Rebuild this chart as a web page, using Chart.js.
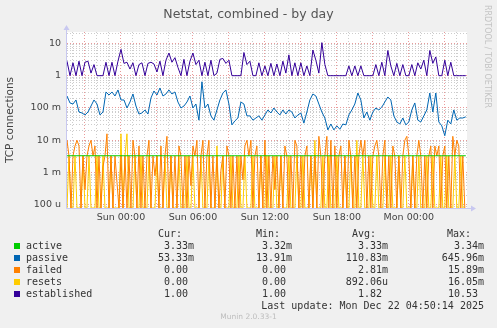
<!DOCTYPE html>
<html>
<head>
<meta charset="utf-8">
<script src="https://cdn.jsdelivr.net/npm/chart.js@4.4.1/dist/chart.umd.min.js"></script>
<style>
  body { margin: 0; background: #f0f0f0; }
  #wrap { position: relative; width: 497px; height: 328px; overflow: hidden; }
  #chart { position: absolute; left: 0; top: 0; }
  .t { position: absolute; white-space: pre; line-height: 12px; }
  .mono { font-family: "DejaVu Sans Mono", monospace; font-size: 10px; color: #333; }
  .sq { position: absolute; width: 6px; height: 6px; }
</style>
</head>
<body>
<div id="wrap">
  <canvas id="chart" width="497" height="328"></canvas>
</div>
<script>
// netstat day graph, hours relative to Sun 00:00, first sample Sat 19:30
const startHour = -4.5;
const stepHour = 0.25;      // established, passive, active: 15 min samples
const fineStepHour = 1 / 6; // failed, resets: 10 min samples

const established = [
  2.8, 1, 2.5, 1, 2.8, 1, 2.6, 2.8, 1.2, 2.2,
  1, 1, 1, 2.6, 1, 2.6, 1, 2.8, 6.5, 2.4,
  2.6, 1.6, 2.5, 1, 2.2, 2.5, 1, 2.4, 2.6, 2.3,
  1.3, 2.8, 1, 3.0, 5.0, 2.6, 3.6, 1.8, 1, 3.2,
  1, 2.8, 5.0, 2.2, 3.0, 1, 2.6, 1, 3.0, 1,
  1.2, 3.2, 3.4, 2.4, 3.0, 1, 1, 1, 1, 5.2,
  2.2, 2.8, 1, 1, 2.5, 1, 2.0, 1, 2.4, 1,
  2.3, 1, 2.8, 1.2, 4.4, 1, 2.5, 1, 2.5, 1,
  2.0, 1, 6.2, 3.0, 1.2, 10.5, 2.2, 1, 1, 1,
  1, 1, 1, 1, 2.0, 1, 2.0, 1, 2.0, 1,
  1, 1, 1, 2.2, 1, 2.6, 1, 6.0, 2.0, 1,
  2.4, 1, 2.2, 1, 1, 2.2, 1, 2.5, 1.6, 3.0,
  1, 6.0, 2.4, 3.8, 1, 1, 3.0, 1, 2.6, 1,
  1, 1, 1, 1
];

const passive = [
  0.235, 0.143, 0.133, 0.177, 0.075, 0.070, 0.061, 0.075, 0.115, 0.177,
  0.133, 0.061, 0.075, 0.313, 0.252, 0.313, 0.235, 0.361, 0.177, 0.177,
  0.100, 0.153, 0.271, 0.115, 0.065, 0.070, 0.087, 0.065, 0.204, 0.336,
  0.252, 0.416, 0.235, 0.271, 0.361, 0.271, 0.313, 0.153, 0.100, 0.115,
  0.153, 0.235, 0.100, 0.133, 0.042, 0.646, 0.100, 0.133, 0.057, 0.042,
  0.087, 0.177, 0.291, 0.361, 0.133, 0.030, 0.040, 0.049, 0.153, 0.133,
  0.057, 0.057, 0.042, 0.049, 0.057, 0.042, 0.061, 0.087, 0.070, 0.100,
  0.075, 0.061, 0.087, 0.065, 0.087, 0.075, 0.049, 0.061, 0.070, 0.034,
  0.075, 0.177, 0.271, 0.235, 0.133, 0.075, 0.049, 0.021, 0.032, 0.021,
  0.028, 0.022, 0.032, 0.030, 0.061, 0.087, 0.133, 0.291, 0.177, 0.049,
  0.075, 0.042, 0.075, 0.100, 0.087, 0.107, 0.153, 0.219, 0.177, 0.057,
  0.037, 0.032, 0.049, 0.030, 0.037, 0.087, 0.143, 0.042, 0.037, 0.057,
  0.087, 0.291, 0.075, 0.291, 0.037, 0.028, 0.0139, 0.042, 0.032, 0.087,
  0.042, 0.049, 0.049, 0.0533
];

const active = [
  0.00333, 0.00333, 0.00333, 0.00333, 0.00333, 0.00334, 0.00333, 0.00333, 0.00333, 0.00333,
  0.00333, 0.00333, 0.00333, 0.00333, 0.00333, 0.00333, 0.00333, 0.00333, 0.00333, 0.00333,
  0.00333, 0.00333, 0.00332, 0.00333, 0.00333, 0.00333, 0.00333, 0.00333, 0.00333, 0.00333,
  0.00333, 0.00333, 0.00333, 0.00333, 0.00333, 0.00333, 0.00333, 0.00333, 0.00333, 0.00333,
  0.00333, 0.00333, 0.00333, 0.00333, 0.00333, 0.00333, 0.00333, 0.00334, 0.00333, 0.00333,
  0.00333, 0.00333, 0.00333, 0.00333, 0.00333, 0.00333, 0.00333, 0.00333, 0.00333, 0.00333,
  0.00333, 0.00333, 0.00333, 0.00333, 0.00333, 0.00333, 0.00333, 0.00333, 0.00333, 0.00333,
  0.00333, 0.00333, 0.00333, 0.00333, 0.00332, 0.00333, 0.00333, 0.00333, 0.00333, 0.00333,
  0.00333, 0.00333, 0.00333, 0.00333, 0.00333, 0.00333, 0.00333, 0.00333, 0.00333, 0.00333,
  0.00333, 0.00333, 0.00333, 0.00333, 0.00333, 0.00333, 0.00333, 0.00333, 0.00333, 0.00333,
  0.00333, 0.00333, 0.00333, 0.00333, 0.00333, 0.00333, 0.00334, 0.00333, 0.00333, 0.00333,
  0.00333, 0.00333, 0.00333, 0.00333, 0.00333, 0.00333, 0.00333, 0.00333, 0.00333, 0.00333,
  0.00333, 0.00333, 0.00333, 0.00333, 0.00333, 0.00333, 0.00333, 0.00333, 0.00333, 0.00333,
  0.00333, 0.00333, 0.00333, 0.00333
];

const failed = [
  0.01, 0.0033, 0, 0.0033, 0.0067, 0.01, 0.0067, 0, 0.0033, 0.0003,
  0.0033, 0.0067, 0.01, 0.0033, 0.0067, 0, 0.0033, 0, 0.0015, 0.0033,
  0.0159, 0, 0.0033, 0, 0.0033, 0.0005, 0, 0.0033, 0, 0.0033,
  0, 0.0033, 0, 0.01, 0.0033, 0, 0.0067, 0, 0.0033, 0,
  0.0033, 0.01, 0, 0.0033, 0.0008, 0.0033, 0, 0.0067, 0, 0.0033,
  0.0133, 0, 0.0033, 0, 0.0033, 0, 0.0067, 0.0033, 0, 0.0033,
  0, 0.0033, 0.0004, 0.0067, 0.0033, 0.01, 0, 0.0033, 0.01, 0,
  0.0033, 0.01, 0, 0.0033, 0, 0.0033, 0, 0.0012, 0.0033, 0,
  0.0067, 0.0033, 0, 0.0033, 0, 0.0033, 0, 0.0033, 0.0006, 0.0067,
  0.01, 0.0033, 0.01, 0, 0.0033, 0.0067, 0, 0.0033, 0, 0.01,
  0, 0.0033, 0, 0.0033, 0.0003, 0.0033, 0, 0.0033, 0, 0.0067,
  0.0033, 0, 0.0033, 0, 0.01, 0.0067, 0, 0.0033, 0, 0.0033,
  0.0067, 0, 0.0033, 0, 0.0033, 0, 0.0133, 0.0033, 0, 0.0033,
  0.0133, 0, 0.01, 0, 0.0067, 0, 0.0033, 0.0067, 0, 0.0033,
  0, 0.01, 0.0033, 0, 0.0033, 0, 0.0033, 0.01, 0.0033, 0.01,
  0, 0.0033, 0, 0.0033, 0.0067, 0.01, 0.0033, 0, 0.0033, 0.01,
  0, 0.0033, 0, 0.0067, 0.0033, 0, 0.0033, 0, 0.0033, 0.01,
  0.0133, 0.0033, 0, 0.0033, 0, 0.0033, 0.01, 0.0033, 0, 0.0033,
  0, 0.0033, 0.0067, 0, 0.0067, 0.0033, 0.0067, 0, 0.0033, 0.0067,
  0, 0.0033, 0, 0.0133, 0.0033, 0.01, 0.0067, 0, 0.0033, 0
];

const resets = [
  0, 0.0033, 0, 0, 0.0033, 0, 0, 0, 0.0033, 0,
  0, 0.0033, 0, 0, 0, 0.0033, 0, 0, 0.0033, 0,
  0, 0, 0.0033, 0, 0, 0, 0, 0.0159, 0, 0.0033,
  0.0159, 0, 0, 0, 0.0033, 0, 0, 0.0033, 0, 0,
  0, 0.0033, 0, 0, 0, 0.0033, 0, 0, 0, 0.0033,
  0, 0, 0.0033, 0, 0, 0, 0.0033, 0, 0, 0,
  0.0033, 0, 0, 0.0033, 0, 0, 0, 0.0033, 0, 0,
  0, 0.0033, 0, 0, 0, 0.0067, 0, 0, 0.0033, 0,
  0, 0, 0.0033, 0, 0, 0, 0.0033, 0, 0, 0.0033,
  0, 0, 0, 0.0033, 0, 0, 0, 0.0033, 0, 0,
  0.0033, 0, 0, 0, 0.0033, 0, 0, 0.0033, 0, 0,
  0, 0.0033, 0, 0, 0, 0.0033, 0, 0, 0.0033, 0,
  0, 0, 0.0033, 0, 0.01, 0, 0, 0, 0.0033, 0,
  0, 0.0033, 0, 0, 0, 0.0033, 0, 0, 0, 0.0033,
  0, 0, 0.0033, 0, 0, 0.01, 0, 0, 0.0033, 0,
  0, 0, 0.0033, 0, 0, 0.0033, 0, 0, 0, 0.0033,
  0, 0, 0.0033, 0, 0, 0, 0.0033, 0, 0, 0.0033,
  0, 0, 0, 0.0033, 0, 0, 0.0033, 0, 0, 0,
  0.0033, 0, 0, 0.0033, 0, 0, 0, 0.0033, 0, 0,
  0.0033, 0, 0, 0, 0.0033, 0, 0, 0.0033, 0, 0
];

// axes
const xMin = -4.5, xMax = 28.85;
const yMin = 8.07e-5, yMax = 22.4;
const xTickHours = [0, 6, 12, 18, 24];
const xTickLabels = ['Sun 00:00', 'Sun 06:00', 'Sun 12:00', 'Sun 18:00', 'Mon 00:00'];
const yTickValues = [1e-4, 1e-3, 1e-2, 1e-1, 1, 10];
const yTickLabels = ['100 u', '1 m', '10 m', '100 m', '1', '10'];

// legend
const seriesNames = ['active', 'passive', 'failed', 'resets', 'established'];
const seriesColors = ['#00cc00', '#0066b3', '#ff8000', '#ffcc00', '#330099'];
const curText = ['3.33m', '53.33m', '0.00 ', '0.00 ', '1.00 '];
const minText = ['3.32m', '13.91m', '0.00 ', '0.00 ', '1.00 '];
const avgText = ['3.33m', '110.83m', '2.81m', '892.06u', '1.82 '];
const maxText = ['3.34m', '645.96m', '15.89m', '16.05m', '10.53 '];

function pts(arr, step) {
  return arr.map((v, i) => ({ x: startHour + i * step, y: v }));
}

const seriesData = [pts(active, stepHour), pts(passive, stepHour), pts(failed, fineStepHour),
  pts(resets, fineStepHour), pts(established, stepHour)];
const drawOrder = [1, 4, 2, 3, 0]; // lower = drawn later (on top)

const wrap = document.getElementById('wrap');
function addText(txt, left, top, cls, style) {
  const d = document.createElement('div');
  d.className = 't ' + cls;
  d.textContent = txt;
  d.style.left = left + 'px';
  d.style.top = top + 'px';
  if (style) Object.assign(d.style, style);
  wrap.appendChild(d);
  return d;
}

// title and side texts
addText('Netstat, combined - by day', 0, 6, '', {
  width: '497px', textAlign: 'center', font: '12.5px "DejaVu Sans"', color: '#555'
});
addText('RRDTOOL / TOBI OETIKER', 0, 0, '', {
  font: '8px "DejaVu Sans"', color: '#c4c4c4', left: '482px', top: '5px',
  transformOrigin: '0 0', transform: 'rotate(90deg) translate(0, -10px)'
});

// legend table
const rowTop = 228;
addText('Cur:', 158, rowTop, 'mono');
addText('Min:', 256, rowTop, 'mono');
addText('Avg:', 352, rowTop, 'mono');
addText('Max:', 447, rowTop, 'mono');
seriesNames.forEach((name, i) => {
  const top = rowTop + 12 * (i + 1);
  const sq = document.createElement('div');
  sq.className = 'sq';
  sq.style.left = '14px';
  sq.style.top = (top + 3) + 'px';
  sq.style.background = seriesColors[i];
  wrap.appendChild(sq);
  addText(name, 26, top, 'mono');
  [[curText, 194], [minText, 292], [avgText, 388], [maxText, 484]].forEach(([col, right]) => {
    addText(col[i], 0, top, 'mono', { left: 'auto', right: (497 - right) + 'px' });
  });
});
addText('Last update: Mon Dec 22 04:50:14 2025', 0, rowTop + 72, 'mono', { left: 'auto', right: '13px' });
addText('Munin 2.0.33-1', 0, rowTop + 84, '', {
  width: '497px', textAlign: 'center', font: '7.5px "DejaVu Sans"', color: '#bdbdbd'
});

const plotBg = {
  id: 'plotBg',
  beforeDraw(chart) {
    const { ctx, chartArea: a } = chart;
    ctx.save();
    ctx.fillStyle = '#ffffff';
    ctx.fillRect(a.left, a.top, a.right - a.left, a.bottom - a.top);
    ctx.restore();
  },
  beforeDatasetsDraw(chart) {
    const { ctx, chartArea: a } = chart;
    const x0 = Math.round(a.left) - 0.5, y0 = Math.round(a.bottom) + 0.5;
    ctx.save();
    ctx.strokeStyle = '#c8c8f0';
    ctx.fillStyle = '#c8c8f0';
    ctx.lineWidth = 1;
    ctx.beginPath();
    ctx.moveTo(x0, y0); ctx.lineTo(x0, a.top - 3);
    ctx.moveTo(x0, y0); ctx.lineTo(a.right + 5, y0);
    ctx.stroke();
    ctx.beginPath();
    ctx.moveTo(x0 - 3, a.top - 2); ctx.lineTo(x0 + 3, a.top - 2); ctx.lineTo(x0, a.top - 7); ctx.closePath();
    ctx.moveTo(a.right + 4, y0 - 3); ctx.lineTo(a.right + 4, y0 + 3); ctx.lineTo(a.right + 9, y0); ctx.closePath();
    ctx.fill();
    ctx.restore();
  }
};

const isDecade = v => Math.abs(Math.log10(v) - Math.round(Math.log10(v))) < 1e-6;

new Chart(document.getElementById('chart').getContext('2d'), {
  type: 'line',
  data: {
    datasets: seriesNames.map((name, i) => ({
      label: name,
      data: seriesData[i],
      borderColor: seriesColors[i],
      borderWidth: 1,
      pointRadius: 0,
      fill: false,
      tension: 0,
      order: drawOrder[i]
    }))
  },
  options: {
    responsive: false,
    animation: false,
    devicePixelRatio: 1,
    parsing: false,
    layout: { padding: { left: 0, right: 30, top: 32, bottom: 100 } },
    plugins: { legend: { display: false }, tooltip: { enabled: false } },
    scales: {
      x: {
        type: 'linear',
        min: xMin,
        max: xMax,
        afterFit: s => { s.height = 20; },
        afterBuildTicks: s => {
          const t = [];
          for (let h = Math.ceil(xMin); h <= Math.floor(xMax); h++) t.push({ value: h });
          s.ticks = t;
        },
        ticks: {
          autoSkip: false,
          maxRotation: 0,
          padding: 4,
          color: '#444',
          font: { family: 'DejaVu Sans', size: 9.5 },
          callback: v => {
            const k = xTickHours.indexOf(v);
            return k >= 0 ? xTickLabels[k] : '';
          }
        },
        grid: {
          drawTicks: false,
          lineWidth: 1,
          color: c => (c.tick && c.tick.value % 3 === 0) ? 'rgba(225,120,120,0.75)' : 'rgba(170,170,170,0.6)'
        },
        border: { display: false, dash: [1, 2] }
      },
      y: {
        type: 'logarithmic',
        min: yMin,
        max: yMax,
        afterFit: s => { s.width = 67; },
        afterBuildTicks: s => {
          const t = [];
          for (let e = -5; e <= 1; e++) {
            for (let k = 1; k <= 9; k++) {
              const v = k * Math.pow(10, e);
              if (v >= yMin && v <= yMax) t.push({ value: v });
            }
          }
          s.ticks = t;
        },
        title: {
          display: true,
          text: 'TCP connections',
          color: '#444',
          font: { family: 'DejaVu Sans', size: 10.5 },
          padding: { top: 4, bottom: 0 }
        },
        ticks: {
          autoSkip: false,
          padding: 6,
          color: '#444',
          font: { family: 'DejaVu Sans', size: 9.5 },
          callback: v => {
            for (let k = 0; k < yTickValues.length; k++) {
              if (Math.abs(v / yTickValues[k] - 1) < 1e-6) return yTickLabels[k];
            }
            return '';
          }
        },
        grid: {
          drawTicks: false,
          lineWidth: 1,
          color: c => (c.tick && isDecade(c.tick.value)) ? 'rgba(225,120,120,0.75)' : 'rgba(170,170,170,0.6)'
        },
        border: { display: false, dash: [1, 2] }
      }
    }
  },
  plugins: [plotBg]
});
</script>
</body>
</html>
